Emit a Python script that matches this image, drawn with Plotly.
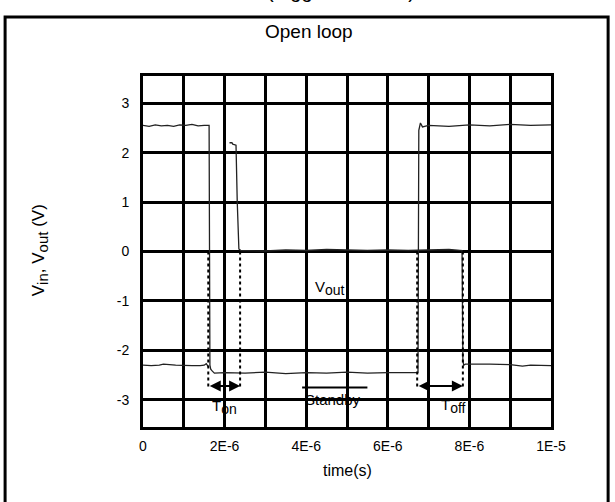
import numpy as np
import plotly.graph_objects as go

# ---- data (time in microseconds, converted to seconds below) ----
vin_t_us = [0, 0.15, 0.3, 0.45, 0.6, 0.75, 0.9, 1.05, 1.2, 1.35, 1.5, 1.62, 1.64, 1.66,
            1.7, 1.75, 2.0, 2.5, 3.0, 3.5, 4.0, 4.5, 5.0, 5.5, 6.0, 6.5, 6.74, 6.76,
            6.8, 6.85, 7.0, 7.5, 8.0, 8.5, 9.0, 9.5, 10.0]
vin_v = [2.55, 2.53, 2.56, 2.54, 2.55, 2.53, 2.56, 2.55, 2.57, 2.54, 2.55, 2.55, -2.30, -2.38,
         -2.42, -2.46, -2.45, -2.46, -2.44, -2.47, -2.45, -2.46, -2.44, -2.46, -2.45, -2.44, -2.45, 2.45,
         2.60, 2.52, 2.55, 2.53, 2.56, 2.54, 2.57, 2.55, 2.56]

vout_t_us = [0, 0.2, 0.4, 0.5, 0.8, 1.0, 1.2, 1.4, 1.5, 1.55, 1.58, 1.6, None,
             2.12, 2.18, 2.2, 2.25, 2.28, 2.31, 2.35, 2.4, 2.5, 3.0, 3.5, 4.0, 4.5, 5.0,
             5.5, 6.0, 6.5, 7.0, 7.5, 7.82, 7.84, 7.86, 7.9, 8.5, 9.0, 9.3, 9.5, 10.0]
vout_v = [-2.3, -2.31, -2.3, -2.28, -2.3, -2.31, -2.31, -2.31, -2.3, -2.27, -2.3, -2.33, None,
          2.2, 2.2, 2.17, 2.16, 2.15, 1.0, 0.05, 0.02, 0.02, 0.01, 0.03, 0.02, 0.04, 0.03,
          0.02, 0.03, 0.02, 0.03, 0.04, 0.02, -2.2, -2.3, -2.28, -2.28, -2.29, -2.32, -2.3, -2.31]

# timing markers (dotted verticals), Ton / Toff arrows, standby bar
marker_t_us = [1.6, 2.38, 6.72, 7.84]
marker_top = [0.0, 0.0, 0.0, 0.0]
marker_bottom = -2.75
ton_span_us = [1.6, 2.38]
toff_span_us = [6.72, 7.84]
arrow_v = -2.72
standby_span_us = [3.9, 5.5]
standby_v = -2.75

x_tick_vals_us = [0, 2, 4, 6, 8, 10]
x_tick_text = ["0", "2E-6", "4E-6", "6E-6", "8E-6", "1E-5"]
x_grid_us = [1, 3, 5, 7, 9]
y_tick_vals = [-3, -2, -1, 0, 1, 2, 3]
y_tick_text = ["-3", "-2", "-1", "0", "1", "2", "3"]

US = 1e-6
to_s = lambda arr: [None if a is None else a * US for a in arr]

FONT = "Arial, Liberation Sans, sans-serif"


def sub(s, size):
    # subscript kept close to full size, as in the original
    return f"<sub><span style='font-size:{size}px'>{s}</span></sub>"


fig = go.Figure()

fig.add_trace(go.Scatter(x=to_s(vin_t_us), y=vin_v, mode="lines",
                         line=dict(color="#222", width=1.3), hoverinfo="skip"))
fig.add_trace(go.Scatter(x=to_s(vout_t_us), y=vout_v, mode="lines", connectgaps=False,
                         line=dict(color="#222", width=1.3), hoverinfo="skip"))

for t, top in zip(marker_t_us, marker_top):
    fig.add_trace(go.Scatter(x=[t * US, t * US], y=[top, marker_bottom], mode="lines",
                             line=dict(color="black", width=2, dash="dot"), hoverinfo="skip"))

fig.add_trace(go.Scatter(x=to_s(standby_span_us), y=[standby_v, standby_v], mode="lines",
                         line=dict(color="black", width=2), hoverinfo="skip"))

# double-headed arrows
for span in (ton_span_us, toff_span_us):
    fig.add_annotation(x=span[1] * US, y=arrow_v, ax=span[0] * US, ay=arrow_v,
                       xref="x", yref="y", axref="x", ayref="y", text="",
                       showarrow=True, arrowhead=2, arrowside="end+start",
                       arrowsize=1.1, arrowwidth=2, arrowcolor="black")

txt = dict(family=FONT, size=15, color="black")
fig.add_annotation(x=2.0 * US, y=-3.15, xref="x", yref="y", text="T" + sub("on", 14),
                   showarrow=False, font=txt)
fig.add_annotation(x=7.6 * US, y=-3.12, xref="x", yref="y", text="T" + sub("off", 14),
                   showarrow=False, font=txt)
fig.add_annotation(x=4.65 * US, y=-3.0, xref="x", yref="y", text="Standby",
                   showarrow=False, font=txt)
fig.add_annotation(x=4.58 * US, y=-0.73, xref="x", yref="y", text="V" + sub("out", 14),
                   showarrow=False, font=txt)

# titles (paper coords, explicitly centred)
fig.add_annotation(x=0.407, y=1.128, xref="paper", yref="paper", xanchor="center",
                   yanchor="middle", text="Open loop", showarrow=False,
                   font=dict(family=FONT, size=19, color="black"))
fig.add_annotation(x=0.5, y=-0.125, xref="paper", yref="paper", xanchor="center",
                   yanchor="middle", text="time(s)", showarrow=False,
                   font=dict(family=FONT, size=16, color="black"))
fig.add_annotation(x=-0.252, y=0.504, xref="paper", yref="paper", xanchor="center",
                   yanchor="middle", textangle=-90,
                   text="V" + sub("in", 15) + ", V" + sub("out", 15) + " (V)", showarrow=False,
                   font=dict(family=FONT, size=17, color="black"))
# clipped caption above frame
fig.add_annotation(x=0.3, y=1.205, xref="paper", yref="paper", yanchor="bottom",
                   text="(triggered mode)", showarrow=False,
                   font=dict(family=FONT, size=20, color="black"))

# outer frame
fig.add_shape(type="rect", xref="paper", yref="paper", x0=-0.338, x1=1.140, y0=-0.24, y1=1.168,
              line=dict(color="black", width=3), layer="below")

grid = dict(showgrid=True, gridcolor="black", gridwidth=3, zeroline=False,
            showline=True, linecolor="black", linewidth=3, mirror=True, ticks="")
fig.update_xaxes(range=[0, 10 * US], tickvals=to_s(x_tick_vals_us), ticktext=x_tick_text,
                 minor=dict(tickvals=to_s(x_grid_us), showgrid=True, gridcolor="black",
                            gridwidth=3, ticks=""),
                 ticklabelstandoff=4, tickfont=dict(family=FONT, size=14, color="black"), **grid)
fig.update_yaxes(range=[-3.55, 3.55], tickvals=y_tick_vals, ticktext=y_tick_text,
                 ticklabelstandoff=8, tickfont=dict(family=FONT, size=14, color="black"), **grid)

fig.update_layout(width=615, height=502, showlegend=False,
                  margin=dict(l=143, r=64, t=76, b=75),
                  paper_bgcolor="white", plot_bgcolor="white")

fig.write_html("out.html", config={"displayModeBar": False},
               post_script="document.body.style.margin='0px';"
                           "document.body.style.overflow='hidden';")
